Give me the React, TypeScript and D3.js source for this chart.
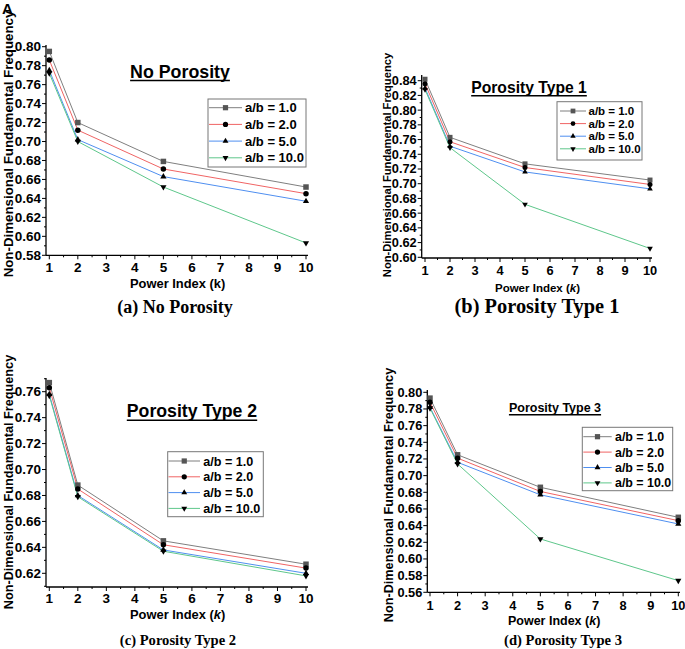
import React from "react";
import * as d3 from "d3";

const powerIndex = [1, 2, 5, 10];
const seriesLabels = ["a/b = 1.0", "a/b = 2.0", "a/b = 5.0", "a/b = 10.0"];

const noPorosity = [
  [0.795, 0.72, 0.679, 0.652],
  [0.786, 0.712, 0.671, 0.645],
  [0.775, 0.702, 0.663, 0.637],
  [0.772, 0.7, 0.652, 0.593],
];
const porosity1 = [
  [0.842, 0.763, 0.727, 0.705],
  [0.836, 0.757, 0.722, 0.699],
  [0.83, 0.751, 0.716, 0.693],
  [0.828, 0.749, 0.672, 0.612],
];
const porosity2 = [
  [0.767, 0.688, 0.645, 0.627],
  [0.763, 0.685, 0.642, 0.624],
  [0.758, 0.68, 0.638, 0.62],
  [0.757, 0.679, 0.637, 0.618],
];
const porosity3 = [
  [0.793, 0.725, 0.686, 0.65],
  [0.788, 0.721, 0.681, 0.646],
  [0.782, 0.716, 0.677, 0.642],
  [0.781, 0.714, 0.624, 0.574],
];

const xTicks = [1, 2, 3, 4, 5, 6, 7, 8, 9, 10];
const yTicksA = [0.58, 0.6, 0.62, 0.64, 0.66, 0.68, 0.7, 0.72, 0.74, 0.76, 0.78, 0.8];
const yTicksB = [0.6, 0.62, 0.64, 0.66, 0.68, 0.7, 0.72, 0.74, 0.76, 0.78, 0.8, 0.82, 0.84];
const yTicksC = [0.62, 0.64, 0.66, 0.68, 0.7, 0.72, 0.74, 0.76];
const yTicksD = [0.56, 0.58, 0.6, 0.62, 0.64, 0.66, 0.68, 0.7, 0.72, 0.74, 0.76, 0.78, 0.8];

const lineColors = ["#7f7f7f", "#f06464", "#4f8ff0", "#5ec78b"];
const markerColors = ["#555555", "#000000", "#000000", "#000000"];
const markerShapes = [d3.symbolSquare, d3.symbolCircle, d3.symbolTriangle, d3.symbolTriangle];

const SANS = "'Liberation Sans', Arial, sans-serif";
const SERIF = "'Liberation Serif', 'Times New Roman', serif";

let measureCtx: CanvasRenderingContext2D | null = null;
function measure(s: string, size: number) {
  if (typeof document !== "undefined") {
    if (!measureCtx) measureCtx = document.createElement("canvas").getContext("2d");
    if (measureCtx) {
      measureCtx.font = `bold ${size}px 'Liberation Sans', Arial, sans-serif`;
      return measureCtx.measureText(s).width;
    }
  }
  return s.length * size * 0.5;
}

type PanelCfg = {
  data: number[][];
  yTicks: number[];
  xr: [number, number];
  axisX: [number, number];
  yDom: [number, number];
  yr: [number, number];
  axisY: [number, number];
  tickFont: number;
  xLabelY: number;
  xTitleY: number;
  xTitleSize: number;
  xTitleItalic: boolean;
  yTitleX: number;
  yTitleY: number;
  yTitleSize: number;
  title: string;
  titleX: number;
  titleY: number;
  titleSize: number;
  underlineY: number;
  legend: { x: number; y: number; w: number; h: number; row0: number; dy: number; l1: number; l2: number; tx: number; fs: number };
  caption: string;
  capX: number;
  capY: number;
  capSize: number;
  markerSize: number;
};

function Marker({ i, x, y, size }: { i: number; x: number; y: number; size: number }) {
  const area = i === 0 ? size * size : i === 1 ? Math.PI * (size / 2) * (size / 2) : size * size * 0.55;
  const p = d3.symbol().type(markerShapes[i]).size(area)();
  const rot = i === 3 ? 180 : 0;
  return <path d={p || ""} transform={`translate(${x},${y}) rotate(${rot})`} fill={markerColors[i]} />;
}

function Panel({ c }: { c: PanelCfg }) {
  const x = d3.scaleLinear().domain([1, 10]).range(c.xr);
  const y = d3.scaleLinear().domain(c.yDom).range(c.yr);
  const lineGen = d3
    .line<number>()
    .x((_, j) => x(powerIndex[j]))
    .y((v) => v);
  const xMinor = d3.range(1.5, 10, 1);
  const step = c.yTicks[1] - c.yTicks[0];
  const yMinor: number[] = [];
  const yMinVal = y.invert(c.axisY[0]);
  const yMaxVal = y.invert(c.axisY[1]);
  for (let v = c.yTicks[0] - step / 2; v <= yMaxVal + 1e-9; v += step) {
    if (v >= yMinVal - 1e-9) yMinor.push(v);
  }
  const tw = measure(c.title, c.titleSize);
  const L = c.legend;
  return (
    <g>
      <line x1={c.axisX[0]} x2={c.axisX[1]} y1={c.axisY[0]} y2={c.axisY[0]} stroke="#000" strokeWidth={1.3} />
      <line x1={c.axisX[0]} x2={c.axisX[0]} y1={c.axisY[0]} y2={c.axisY[1]} stroke="#000" strokeWidth={1.3} />
      {xTicks.map((t) => (
        <g key={"xt" + t}>
          <line x1={x(t)} x2={x(t)} y1={c.axisY[0]} y2={c.axisY[0] + 4} stroke="#000" strokeWidth={1} />
          <text x={x(t)} y={c.xLabelY} textAnchor="middle" fontFamily={SANS} fontWeight="bold" fontSize={c.tickFont}>
            {t}
          </text>
        </g>
      ))}
      {xMinor.map((t) => (
        <line key={"xm" + t} x1={x(t)} x2={x(t)} y1={c.axisY[0]} y2={c.axisY[0] + 2} stroke="#000" strokeWidth={1} />
      ))}
      {c.yTicks.map((t) => (
        <g key={"yt" + t}>
          <line x1={c.axisX[0] - 4} x2={c.axisX[0]} y1={y(t)} y2={y(t)} stroke="#000" strokeWidth={1} />
          <text
            x={c.axisX[0] - 5}
            y={y(t)}
            dy="0.35em"
            textAnchor="end"
            fontFamily={SANS}
            fontWeight="bold"
            fontSize={c.tickFont}
          >
            {t.toFixed(2)}
          </text>
        </g>
      ))}
      {yMinor.map((t, k) => (
        <line key={"ym" + k} x1={c.axisX[0] - 2} x2={c.axisX[0]} y1={y(t)} y2={y(t)} stroke="#000" strokeWidth={1} />
      ))}
      <text x={(c.xr[0] + c.xr[1]) / 2} y={c.xTitleY} textAnchor="middle" fontFamily={SANS} fontWeight="bold" fontSize={c.xTitleSize}>
        Power Index (<tspan fontStyle={c.xTitleItalic ? "italic" : "normal"}>k</tspan>)
      </text>
      <text
        transform={`translate(${c.yTitleX},${c.yTitleY}) rotate(-90)`}
        textAnchor="middle"
        fontFamily={SANS}
        fontWeight="bold"
        fontSize={c.yTitleSize}
      >
        Non-Dimensional Fundamental Frequency
      </text>
      {c.data.map((s, i) => (
        <path key={"l" + i} d={lineGen(s.map((v) => y(v))) || ""} fill="none" stroke={lineColors[i]} strokeWidth={1} />
      ))}
      {c.data.map((s, i) =>
        s.map((v, j) => <Marker key={"m" + i + "-" + j} i={i} x={x(powerIndex[j])} y={y(v)} size={c.markerSize} />)
      )}
      <text x={c.titleX} y={c.titleY} textAnchor="middle" fontFamily={SANS} fontWeight="bold" fontSize={c.titleSize}>
        {c.title}
      </text>
      <line x1={c.titleX - tw / 2} x2={c.titleX + tw / 2} y1={c.underlineY} y2={c.underlineY} stroke="#000" strokeWidth={1.4} />
      <rect x={L.x} y={L.y} width={L.w} height={L.h} fill="#fff" stroke="#777" strokeWidth={1} />
      {seriesLabels.map((lab, i) => {
        const ry = L.row0 + i * L.dy;
        return (
          <g key={"lg" + i}>
            <line x1={L.l1} x2={L.l2} y1={ry} y2={ry} stroke={lineColors[i]} strokeWidth={1} />
            <Marker i={i} x={(L.l1 + L.l2) / 2} y={ry} size={c.markerSize * 0.95} />
            <text x={L.tx} y={ry} dy="0.36em" fontFamily={SANS} fontWeight="bold" fontSize={L.fs}>
              {lab}
            </text>
          </g>
        );
      })}
      <text x={c.capX} y={c.capY} textAnchor="middle" fontFamily={SERIF} fontWeight="bold" fontSize={c.capSize}>
        {c.caption}
      </text>
    </g>
  );
}

const panels: PanelCfg[] = [
  {
    data: noPorosity,
    yTicks: yTicksA,
    xr: [49.3, 306],
    axisX: [46, 308],
    yDom: [0.58, 0.8],
    yr: [255.3, 46.7],
    axisY: [255.3, 45],
    tickFont: 13.5,
    xLabelY: 272,
    xTitleY: 288,
    xTitleSize: 12.9,
    xTitleItalic: false,
    yTitleX: 12.5,
    yTitleY: 144,
    yTitleSize: 13.3,
    title: "No Porosity",
    titleX: 180,
    titleY: 77.5,
    titleSize: 17.8,
    underlineY: 80.5,
    legend: { x: 208, y: 99, w: 98, h: 68, row0: 107.7, dy: 16.7, l1: 209, l2: 242, tx: 245, fs: 13 },
    caption: "(a) No Porosity",
    capX: 175,
    capY: 313,
    capSize: 18,
    markerSize: 5.5,
  },
  {
    data: porosity1,
    yTicks: yTicksB,
    xr: [425, 650],
    axisX: [421.7, 652],
    yDom: [0.6, 0.84],
    yr: [257.3, 80.7],
    axisY: [258, 75],
    tickFont: 12.8,
    xLabelY: 275,
    xTitleY: 292,
    xTitleSize: 11.5,
    xTitleItalic: true,
    yTitleX: 390.5,
    yTitleY: 165,
    yTitleSize: 11.2,
    title: "Porosity Type 1",
    titleX: 529,
    titleY: 92.7,
    titleSize: 15.7,
    underlineY: 95.7,
    legend: { x: 557, y: 101.7, w: 85, h: 58.3, row0: 111, dy: 12.6, l1: 560, l2: 586, tx: 588.5, fs: 11.5 },
    caption: "(b) Porosity Type 1",
    capX: 537,
    capY: 313,
    capSize: 20.4,
    markerSize: 5,
  },
  {
    data: porosity2,
    yTicks: yTicksC,
    xr: [49.3, 306],
    axisX: [46, 308],
    yDom: [0.62, 0.76],
    yr: [573.3, 391.7],
    axisY: [587, 378],
    tickFont: 13.5,
    xLabelY: 603,
    xTitleY: 619,
    xTitleSize: 12.9,
    xTitleItalic: true,
    yTitleX: 12.5,
    yTitleY: 482,
    yTitleSize: 12.7,
    title: "Porosity Type 2",
    titleX: 192,
    titleY: 417.3,
    titleSize: 17.7,
    underlineY: 420.3,
    legend: { x: 167.7, y: 451.7, w: 95.6, h: 65, row0: 461, dy: 15.8, l1: 168.5, l2: 200, tx: 203.3, fs: 12.6 },
    caption: "(c) Porosity Type 2",
    capX: 178,
    capY: 645,
    capSize: 14.6,
    markerSize: 5.5,
  },
  {
    data: porosity3,
    yTicks: yTicksD,
    xr: [430, 678.3],
    axisX: [427.3, 680],
    yDom: [0.56, 0.8],
    yr: [592.3, 392.3],
    axisY: [592.3, 390],
    tickFont: 12.8,
    xLabelY: 610,
    xTitleY: 624.5,
    xTitleSize: 12.5,
    xTitleItalic: true,
    yTitleX: 392.5,
    yTitleY: 495,
    yTitleSize: 12.7,
    title: "Porosity Type 3",
    titleX: 555,
    titleY: 412.3,
    titleSize: 12.5,
    underlineY: 414.8,
    legend: { x: 582.3, y: 427.3, w: 90.4, h: 63.4, row0: 436.7, dy: 15.4, l1: 583.3, l2: 611.7, tx: 615, fs: 12.4 },
    caption: "(d) Porosity Type 3",
    capX: 563,
    capY: 645,
    capSize: 14.6,
    markerSize: 5.5,
  },
];

export default function App() {
  return (
    <svg
      width={685}
      height={649}
      viewBox="0 0 685 649"
      style={{ position: "absolute", left: 0, top: 0, background: "#fff" }}
    >
      <rect x={0} y={0} width={685} height={649} fill="#fff" />
      <text x={2} y={14} fontFamily={SANS} fontWeight="bold" fontSize={15}>
        A
      </text>
      {panels.map((p, i) => (
        <Panel key={i} c={p} />
      ))}
    </svg>
  );
}
